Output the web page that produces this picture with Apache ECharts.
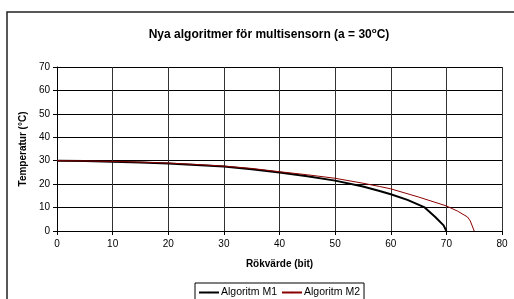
<!DOCTYPE html>
<html>
<head>
<meta charset="utf-8">
<script src="https://cdn.jsdelivr.net/npm/echarts@6/dist/echarts.min.js"></script>
<style>
	html, body { margin: 0; padding: 0; background: #fff; }
	#main { width: 514px; height: 299px; }
</style>
</head>
<body>
<div id="main"></div>
<script>
// Rökvärde (bit) -> Temperatur (°C)
const m1X = [0, 5, 10, 15, 20, 25, 30, 35, 40, 45, 50, 55, 58, 60, 63, 66, 68, 69.5, 70]
const m1Y = [30, 29.9, 29.6, 29.2, 28.8, 28.2, 27.5, 26.4, 25.0, 23.4, 21.5, 19.0, 17.1, 15.7, 13.3, 10.2, 6.0, 2.4, 0]
const m2X = [0, 5, 10, 15, 20, 25, 30, 35, 40, 45, 50, 55, 58, 60, 65, 70, 72, 73.8, 74.3, 75]
const m2Y = [30, 29.9, 29.7, 29.4, 29.0, 28.4, 27.7, 26.7, 25.3, 24.0, 22.5, 20.4, 19.0, 18.0, 14.5, 10.7, 8.5, 6.0, 4.3, 0]
const seriesNames = ['Algoritm M1', 'Algoritm M2']

const pairs = (xs, ys) => xs.map((x, i) => [x, ys[i]])

let myChart = echarts.init(document.getElementById('main'), null, { renderer: 'canvas' })
const font = 'Liberation Sans, Arial, sans-serif'

let option = {
	animation: false,
	textStyle: { fontFamily: font },
	graphic: [{
		type: 'rect',
		shape: { x: 7, y: 12, width: 700, height: 400 },
		style: { fill: 'none', stroke: '#222', lineWidth: 1.5 },
		z: -1
	}],
	title: {
		text: '{t|Nya algoritmer för multisensorn (a = 30}{s|o}{t|C)}',
		left: 264,
		textAlign: 'center',
		top: 22,
		textStyle: {
			rich: {
				t: { fontFamily: font, fontSize: 12, fontWeight: 'bold', color: '#000', verticalAlign: 'bottom' },
				s: { fontFamily: font, fontSize: 8, fontWeight: 'bold', color: '#000', verticalAlign: 'top', padding: [0, 0, 6, 0] }
			}
		}
	},
	legend: {
		data: seriesNames,
		left: 195,
		top: 283,
		orient: 'horizontal',
		itemWidth: 20,
		itemHeight: 2,
		itemGap: 4,
		padding: [4, 4, 30, 3],
		borderColor: '#000',
		borderWidth: 1,
		textStyle: { fontFamily: font, fontSize: 10.5, color: '#000', padding: [0, 0, 0, -3] }
	},
	grid: {
		left: 57,
		top: 67,
		right: 12,
		bottom: 68
	},
	xAxis: {
		type: 'value',
		min: 0,
		max: 80,
		interval: 10,
		name: 'Rökvärde (bit)',
		nameLocation: 'middle',
		nameGap: 28,
		nameTextStyle: { fontFamily: font, fontSize: 10, fontWeight: 'bold', color: '#000' },
		axisLine: { show: true, lineStyle: { color: '#000', width: 1 } },
		axisTick: { show: true, length: 4, lineStyle: { color: '#000' } },
		axisLabel: { fontFamily: font, fontSize: 10, color: '#000', margin: 8 },
		splitLine: { show: true, lineStyle: { color: '#333', width: 1 } }
	},
	yAxis: {
		type: 'value',
		min: 0,
		max: 70,
		interval: 10,
		name: 'Temperatur (°C)',
		nameLocation: 'middle',
		nameGap: 27,
		nameTextStyle: { fontFamily: font, fontSize: 10, fontWeight: 'bold', color: '#000' },
		axisLine: { show: true, lineStyle: { color: '#000', width: 1 } },
		axisTick: { show: true, length: 4, lineStyle: { color: '#000' } },
		axisLabel: { fontFamily: font, fontSize: 10, color: '#000', margin: 7 },
		splitLine: { show: true, lineStyle: { color: '#000', width: 1 } }
	},
	series: [{
		name: seriesNames[0],
		type: 'line',
		symbol: 'none',
		smooth: false,
		data: pairs(m1X, m1Y),
		lineStyle: { color: '#000', width: 2 },
		itemStyle: { color: '#000' },
		z: 3
	}, {
		name: seriesNames[1],
		type: 'line',
		symbol: 'none',
		smooth: false,
		data: pairs(m2X, m2Y),
		lineStyle: { color: '#8b0000', width: 1 },
		itemStyle: { color: '#8b0000' },
		z: 4
	}]
}
myChart.setOption(option)
</script>
</body>
</html>
